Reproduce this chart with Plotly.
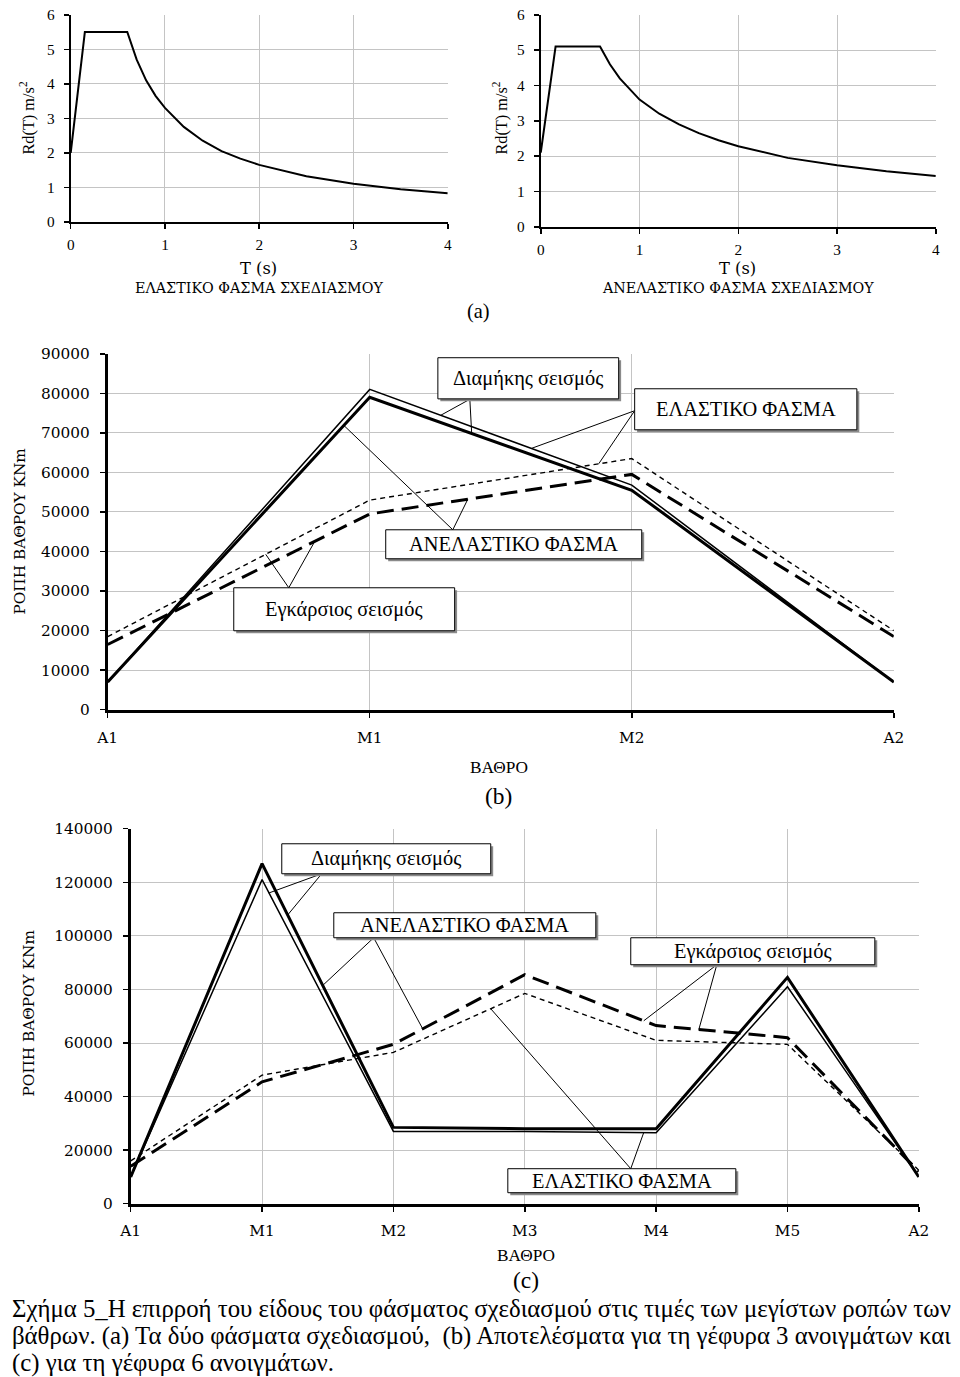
import plotly.graph_objects as go

W, H = 960, 1377

# ---------------- data ----------------
# (a) design spectra
T_el = [0, 0.15, 0.6, 0.65, 0.7, 0.8, 0.9, 1.0, 1.2, 1.4, 1.6, 1.8, 2.0, 2.5, 3.0, 3.5, 4.0]
Rd_el = [2.0, 5.5, 5.5, 5.08, 4.7, 4.1, 3.65, 3.3, 2.75, 2.35, 2.05, 1.83, 1.65, 1.32, 1.1, 0.94, 0.83]
T_inel = [0, 0.15, 0.6, 0.65, 0.7, 0.8, 0.9, 1.0, 1.2, 1.4, 1.6, 1.8, 2.0, 2.5, 3.0, 3.5, 4.0]
Rd_inel = [2.1, 5.1, 5.1, 4.84, 4.6, 4.2, 3.9, 3.6, 3.2, 2.9, 2.65, 2.45, 2.28, 1.95, 1.74, 1.57, 1.44]
T_ticks = [0, 1, 2, 3, 4]
Rd_ticks = [0, 1, 2, 3, 4, 5, 6]

# (b) 3-span bridge
piers_b = ["A1", "M1", "M2", "A2"]
long_el_b = [7000, 81000, 56800, 7000]
long_inel_b = [7000, 79000, 55500, 7000]
trans_el_b = [18500, 53000, 63500, 20000]
trans_inel_b = [16500, 49500, 59500, 18500]

# (c) 6-span bridge
piers_c = ["A1", "M1", "M2", "M3", "M4", "M5", "A2"]
long_el_c = [10000, 121000, 27000, 27000, 26500, 81000, 10000]
long_inel_c = [10000, 127000, 28500, 28000, 28000, 84500, 10000]
trans_el_c = [16000, 48000, 56500, 78500, 61000, 59500, 12500]
trans_inel_c = [14000, 45500, 59500, 85500, 66500, 62000, 12000]

caption_lines = [
    "Σχήμα 5_Η επιρροή του είδους του φάσματος σχεδιασμού στις τιμές των μεγίστων ροπών των",
    "βάθρων. (a) Τα δύο φάσματα σχεδιασμού,  (b) Αποτελέσματα για τη γέφυρα 3 ανοιγμάτων και",
    "(c) για τη γέφυρα 6 ανοιγμάτων.",
]

# ---------------- layout geometry ----------------
# target pixel positions on the photographed page, mapped to figure pixels
OX, SX, OY, SY = 10.3, 0.978, 8.2, 0.987
FS = 1 / 0.982  # font compensation


def TX(t):
    return (t - OX) / SX


def TY(t):
    return (t - OY) / SY


def fs(s):
    return round(s * FS, 1)


BOX_AL = (TX(70), TX(447), TY(14), TY(221))
BOX_AR = (TX(540), TX(935), TY(14), TY(226))
BOX_B = (TX(107), TX(893), TY(353), TY(709))
BOX_C = (TX(130), TX(918), TY(828), TY(1203))

FONT = "Liberation Serif, Times New Roman, serif"
WIDE = "DejaVu Serif, serif"
GRID = "#c4c4c4"


def dx(box):
    return [box[0] / W, box[1] / W]


def dy(box):
    return [1 - box[3] / H, 1 - box[2] / H]


def d2p(box, xr, yr, xd, yd):
    x = box[0] + (xd - xr[0]) / (xr[1] - xr[0]) * (box[1] - box[0])
    y = box[3] - (yd - yr[0]) / (yr[1] - yr[0]) * (box[3] - box[2])
    return x / W, 1 - y / H


fig = go.Figure()

# spectra
fig.add_trace(go.Scatter(x=T_el, y=Rd_el, mode="lines", line=dict(color="black", width=2),
                         xaxis="x", yaxis="y", showlegend=False, hoverinfo="skip"))
fig.add_trace(go.Scatter(x=T_inel, y=Rd_inel, mode="lines", line=dict(color="black", width=2),
                         xaxis="x2", yaxis="y2", showlegend=False, hoverinfo="skip"))

# chart b
xb = list(range(len(piers_b)))
fig.add_trace(go.Scatter(x=xb, y=trans_el_b, mode="lines", line=dict(color="black", width=1.4, dash="5px,4px"),
                         xaxis="x3", yaxis="y3", showlegend=False))
fig.add_trace(go.Scatter(x=xb, y=trans_inel_b, mode="lines", line=dict(color="black", width=3, dash="17px,8px"),
                         xaxis="x3", yaxis="y3", showlegend=False))
fig.add_trace(go.Scatter(x=xb, y=long_el_b, mode="lines", line=dict(color="black", width=1.5),
                         xaxis="x3", yaxis="y3", showlegend=False))
fig.add_trace(go.Scatter(x=xb, y=long_inel_b, mode="lines", line=dict(color="black", width=3),
                         xaxis="x3", yaxis="y3", showlegend=False))

# chart c
xc = list(range(len(piers_c)))
fig.add_trace(go.Scatter(x=xc, y=trans_el_c, mode="lines", line=dict(color="black", width=1.4, dash="5px,4px"),
                         xaxis="x4", yaxis="y4", showlegend=False))
fig.add_trace(go.Scatter(x=xc, y=trans_inel_c, mode="lines", line=dict(color="black", width=3, dash="17px,8px"),
                         xaxis="x4", yaxis="y4", showlegend=False))
fig.add_trace(go.Scatter(x=xc, y=long_el_c, mode="lines", line=dict(color="black", width=1.5),
                         xaxis="x4", yaxis="y4", showlegend=False))
fig.add_trace(go.Scatter(x=xc, y=long_inel_c, mode="lines", line=dict(color="black", width=3),
                         xaxis="x4", yaxis="y4", showlegend=False))


def axis(domain, rng, anchor, tickvals, ticktext=None, size=14, standoff=4, lw=2, fmt=None, family=FONT):
    a = dict(domain=domain, range=rng, anchor=anchor, tickmode="array", tickvals=tickvals,
             showgrid=True, gridcolor=GRID, gridwidth=1, zeroline=False,
             showline=True, linecolor="black", linewidth=lw, ticks="outside", ticklen=5,
             tickwidth=1.5, tickcolor="black", fixedrange=True,
             tickfont=dict(family=family, size=fs(size), color="black"), ticklabelstandoff=standoff)
    if ticktext is not None:
        a["ticktext"] = ticktext
    if fmt:
        a["tickformat"] = fmt
    return a


yb_ticks = list(range(0, 90001, 10000))
yc_ticks = list(range(0, 140001, 20000))

layout = dict(
    width=W, height=H, autosize=False, margin=dict(l=0, r=0, t=0, b=0),
    paper_bgcolor="white", plot_bgcolor="white", showlegend=False,
    xaxis=axis(dx(BOX_AL), [0, 4], "y", T_ticks, size=15, standoff=3),
    yaxis=axis(dy(BOX_AL), [0, 6], "x", Rd_ticks, size=15, standoff=6),
    xaxis2=axis(dx(BOX_AR), [0, 4], "y2", T_ticks, size=15, standoff=3),
    yaxis2=axis(dy(BOX_AR), [0, 6], "x2", Rd_ticks, size=15, standoff=6),
    xaxis3=axis(dx(BOX_B), [0, 3], "y3", xb, piers_b, size=15, standoff=7, lw=3, family=WIDE),
    yaxis3=axis(dy(BOX_B), [0, 90000], "x3", yb_ticks, size=15, standoff=7, lw=3, fmt="d", family=WIDE),
    xaxis4=axis(dx(BOX_C), [0, 6], "y4", xc, piers_c, size=15, standoff=6, lw=3, family=WIDE),
    yaxis4=axis(dy(BOX_C), [0, 140000], "x4", yc_ticks, size=15, standoff=7, lw=3, fmt="d", family=WIDE),
)
fig.update_layout(**layout)

ann = []
shapes = []


def text(x, y, s, size=15, angle=0, xanchor="center", family=FONT, raw_x=False):
    xp = (x if raw_x else TX(x)) / W
    ann.append(dict(x=xp, y=1 - TY(y) / H, xref="paper", yref="paper", text=s, showarrow=False,
                    textangle=angle, xanchor=xanchor, yanchor="middle",
                    font=dict(family=family, size=fs(size), color="black")))


# (a) labels
text(27, 117, "Rd(T) m/s<sup>2</sup>", 16, -90)
text(258, 268, "T (s)", 16, family=WIDE)
text(258, 287, "ΕΛΑΣΤΙΚΟ ΦΑΣΜΑ ΣΧΕΔΙΑΣΜΟΥ", 14, family=WIDE)
text(500, 117, "Rd(T) m/s<sup>2</sup>", 16, -90)
text(737, 268, "T (s)", 16, family=WIDE)
text(737, 287, "ΑΝΕΛΑΣΤΙΚΟ ΦΑΣΜΑ ΣΧΕΔΙΑΣΜΟΥ", 14, family=WIDE)
text(478, 311, "(a)", 20)

# (b) labels
text(19, 530, "ΡΟΠΗ ΒΑΘΡΟΥ KNm", 15, -90, family=WIDE)
text(498, 767, "ΒΑΘΡΟ", 17)
text(498, 795, "(b)", 23)

# (c) labels
text(28, 1012, "ΡΟΠΗ ΒΑΘΡΟΥ KNm", 15, -90, family=WIDE)
text(525, 1255, "ΒΑΘΡΟ", 17)
text(525, 1279, "(c)", 23)

# caption (starts at the very left of the figure)
for i, line in enumerate(caption_lines):
    text(-1, 1308 + 27 * i, line, 24.4, 0, "left", raw_x=True)

# callouts (in data units of each chart)
callouts_b = [
    dict(text="Διαμήκης σεισμός", box=(1.26, 1.95, 78600, 89000), start=(1.382, 78500),
         ends=[(1.271, 74450), (1.389, 69900)]),
    dict(text="ΕΛΑΣΤΙΚΟ ΦΑΣΜΑ", box=(2.011, 2.859, 70780, 81150), start=(2.011, 75600),
         ends=[(1.618, 66100), (1.874, 62200)]),
    dict(text="ΑΝΕΛΑΣΤΙΚΟ ΦΑΣΜΑ", box=(1.061, 2.038, 38170, 45500), start=(1.317, 45500),
         ends=[(0.901, 71900), (1.374, 53200)]),
    dict(text="Εγκάρσιος σεισμός", box=(0.481, 1.324, 19970, 30840), start=(0.691, 30840),
         ends=[(0.603, 39300), (0.790, 42550)]),
]
callouts_c = [
    dict(text="Διαμήκης σεισμός", box=(1.150, 2.741, 123190, 134390), start=(1.454, 123190),
         ends=[(1.051, 116000), (1.195, 107800)]),
    dict(text="ΑΝΕΛΑΣΤΙΚΟ ΦΑΣΜΑ", box=(1.546, 3.541, 99300, 108630), start=(1.850, 99300),
         ends=[(1.462, 81500), (2.223, 65300)]),
    dict(text="Εγκάρσιος σεισμός", box=(3.807, 5.665, 89220, 99300), start=(4.462, 89220),
         ends=[(3.906, 68300), (4.325, 65000)]),
    dict(text="ΕΛΑΣΤΙΚΟ ΦΑΣΜΑ", box=(2.871, 4.607, 4110, 13070), start=(3.807, 13070),
         ends=[(2.741, 72800), (3.906, 26600)]),
]


def add_callouts(callouts, box, xr, yr):
    for c in callouts:
        x0, x1, y0, y1 = c["box"]
        p0 = d2p(box, xr, yr, x0, y0)
        p1 = d2p(box, xr, yr, x1, y1)
        off_x, off_y = 2.5 / W, 2.5 / H
        s = d2p(box, xr, yr, *c["start"])
        for e in c["ends"]:
            pe = d2p(box, xr, yr, *e)
            shapes.append(dict(type="line", xref="paper", yref="paper", x0=s[0], y0=s[1], x1=pe[0], y1=pe[1],
                               line=dict(color="black", width=1)))
        shapes.append(dict(type="rect", xref="paper", yref="paper", x0=p0[0] + off_x, x1=p1[0] + off_x,
                           y0=p0[1] - off_y, y1=p1[1] - off_y, line=dict(width=0), fillcolor="#8a8a8a"))
        shapes.append(dict(type="rect", xref="paper", yref="paper", x0=p0[0], x1=p1[0], y0=p0[1], y1=p1[1],
                           line=dict(color="black", width=1), fillcolor="white"))
        ann.append(dict(x=(p0[0] + p1[0]) / 2, y=(p0[1] + p1[1]) / 2, xref="paper", yref="paper",
                        text=c["text"], showarrow=False, xanchor="center", yanchor="middle",
                        font=dict(family=FONT, size=fs(20), color="black")))


add_callouts(callouts_b, BOX_B, [0, 3], [0, 90000])
add_callouts(callouts_c, BOX_C, [0, 6], [0, 140000])

fig.update_layout(annotations=ann, shapes=shapes)
fig.write_html(
    "out.html",
    config={"displayModeBar": False, "staticPlot": True},
    post_script=(
        "document.documentElement.style.margin='0';document.documentElement.style.padding='0';"
        "document.documentElement.style.overflow='hidden';"
        "document.body.style.margin='0';document.body.style.padding='0';document.body.style.overflow='hidden';"
    ),
)
